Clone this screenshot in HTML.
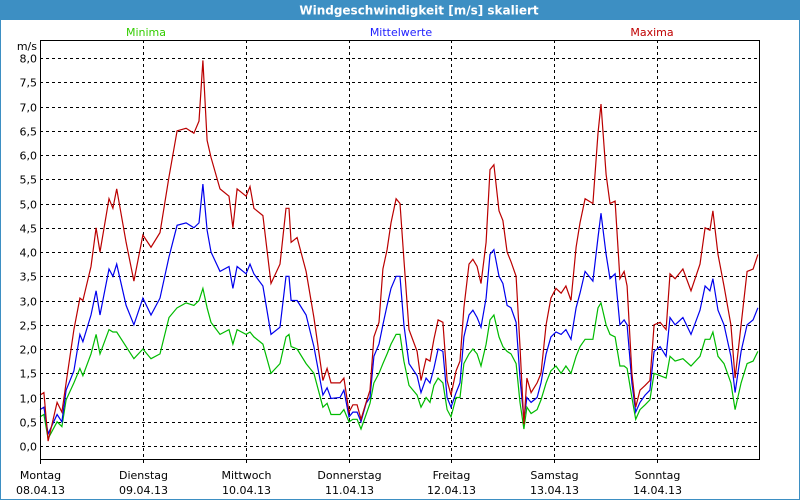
<!DOCTYPE html>
<html><head><meta charset="utf-8"><style>
html,body{margin:0;padding:0;background:#fff;}
#wrap{position:relative;width:800px;height:500px;overflow:hidden;}
svg text{font-family:"DejaVu Sans","Liberation Sans",sans-serif;}
</style></head><body>
<div id="wrap">
<svg id="chart" width="800" height="500" viewBox="0 0 800 500">
<rect x="0.5" y="0.5" width="799" height="499" fill="#fff" stroke="#3d8fc3"/>
<rect x="0" y="0" width="800" height="20" fill="#3d8fc3"/>
<text x="419" y="14.5" fill="#fff" font-size="12" font-weight="bold" text-anchor="middle">Windgeschwindigkeit [m/s] skaliert</text>
<text x="146" y="36" fill="#33cc00" font-size="11" text-anchor="middle">Minima</text>
<text x="401" y="36" fill="#2020ff" font-size="11" text-anchor="middle">Mittelwerte</text>
<text x="652" y="36" fill="#c00000" font-size="11" text-anchor="middle">Maxima</text>
<text x="37" y="50" fill="#000" font-size="11" text-anchor="end">m/s</text>
<g id="grid"></g>
<g id="series"></g>
<rect x="40.5" y="40.5" width="719" height="419" fill="none" stroke="#000" stroke-width="1"/>
<g id="labels"></g>
</svg>
</div>
<script>
const hours=[0,0.9,1.9,4.0,5.1,6.1,7.9,9.3,10.0,11.9,13.1,14.0,16.1,17.0,17.9,20.1,21.9,24.0,25.9,28.0,30.1,32.0,34.1,35.9,37.1,38.0,39.0,39.9,42.0,44.1,45.0,46.0,48.1,49.0,49.9,52.0,53.9,56.0,57.4,58.1,58.6,60.0,62.1,63.9,66.0,67.0,67.9,70.0,70.9,72.1,73.0,74.0,74.9,76.1,77.0,77.9,79.1,80.0,81.0,81.9,83.1,84.0,84.9,86.1,88.0,88.9,90.1,91.0,91.9,92.9,94.0,95.0,95.9,97.1,98.0,98.9,100.1,101.0,102.0,102.9,104.1,105.0,105.9,107.1,108.0,109.0,109.9,111.1,112.0,112.9,113.6,114.6,116.0,116.9,118.1,119.2,120.4,121.6,122.7,123.9,125.1,126.0,127.2,129.0,130.2,130.9,132.1,133.0,134.2,135.3,136.3,137.0,138.1,139.0,140.0,141.2,142.3,143.3,144.7,146.1,147.0,148.2,150.0,151.9,154.0,155.2,156.3,157.0,158.2,159.6,161.2,162.2,163.6,165.0,166.4,167.5];
const maxima=[1.05,1.1,0.1,0.9,0.7,1.3,2.4,3.05,3.0,3.7,4.5,4.0,5.1,4.9,5.3,4.2,3.4,4.35,4.1,4.4,5.55,6.5,6.55,6.45,6.7,7.95,6.3,5.95,5.3,5.15,4.5,5.3,5.15,5.35,4.9,4.75,3.35,3.75,4.9,4.9,4.2,4.3,3.6,2.65,1.35,1.6,1.3,1.3,1.4,0.7,0.85,0.85,0.55,0.9,1.15,2.25,2.55,3.65,4.05,4.6,5.1,5.0,3.85,2.4,1.95,1.35,1.8,1.75,2.2,2.6,2.55,1.35,1.05,1.55,1.75,2.85,3.75,3.85,3.7,3.35,4.2,5.7,5.8,4.85,4.65,4.0,3.8,3.5,2.05,0.45,1.4,1.1,1.3,1.5,2.5,3.05,3.25,3.15,3.3,3.0,4.1,4.6,5.1,5.0,6.45,7.05,5.6,5.0,5.05,3.45,3.6,3.3,1.5,0.8,1.15,1.25,1.35,2.5,2.55,2.4,3.55,3.45,3.65,3.2,3.75,4.5,4.45,4.85,3.95,3.3,2.5,1.4,2.5,3.6,3.65,3.95];
const mittel=[0.75,0.8,0.25,0.65,0.5,1.15,1.55,2.3,2.15,2.7,3.2,2.7,3.65,3.5,3.75,2.9,2.5,3.05,2.7,3.05,3.9,4.55,4.6,4.5,4.6,5.4,4.45,4.0,3.6,3.7,3.25,3.7,3.55,3.75,3.55,3.3,2.3,2.45,3.5,3.5,3.0,3.0,2.7,2.05,1.05,1.2,0.98,1.0,1.15,0.6,0.7,0.7,0.5,0.88,1.0,1.85,2.1,2.5,2.9,3.25,3.5,3.5,2.5,1.7,1.45,1.1,1.4,1.3,1.6,2.0,1.95,1.0,0.8,1.1,1.3,2.25,2.7,2.8,2.65,2.45,3.05,3.95,4.05,3.5,3.35,2.9,2.85,2.55,1.4,0.55,1.0,0.9,1.0,1.3,1.9,2.25,2.35,2.3,2.4,2.2,2.85,3.15,3.6,3.4,4.3,4.8,3.95,3.45,3.55,2.5,2.6,2.5,1.3,0.7,0.9,1.05,1.15,1.95,2.05,1.85,2.65,2.5,2.65,2.3,2.8,3.3,3.2,3.45,2.8,2.5,1.85,1.1,1.95,2.5,2.6,2.85];
const minima=[0.6,0.65,0.15,0.5,0.4,0.95,1.3,1.6,1.45,1.9,2.3,1.9,2.4,2.35,2.35,2.05,1.8,2.0,1.8,1.9,2.65,2.85,2.95,2.9,3.0,3.25,2.85,2.55,2.3,2.4,2.1,2.4,2.3,2.35,2.25,2.1,1.5,1.7,2.25,2.3,2.05,2.0,1.7,1.5,0.8,0.88,0.65,0.65,0.75,0.5,0.55,0.55,0.35,0.65,0.88,1.3,1.5,1.7,1.9,2.1,2.3,2.3,1.75,1.25,1.05,0.8,1.0,0.9,1.25,1.4,1.3,0.75,0.6,1.0,1.0,1.7,1.9,2.0,1.9,1.65,2.1,2.6,2.7,2.25,2.05,1.95,1.9,1.7,0.9,0.35,0.8,0.67,0.75,0.95,1.3,1.55,1.65,1.5,1.65,1.5,1.85,2.05,2.2,2.2,2.85,2.95,2.5,2.3,2.25,1.65,1.65,1.6,1.0,0.55,0.75,0.85,0.95,1.5,1.45,1.4,1.85,1.75,1.8,1.65,1.85,2.2,2.2,2.35,1.85,1.7,1.3,0.75,1.3,1.7,1.75,1.95];
const yTicks=["0,0","0,5","1,0","1,5","2,0","2,5","3,0","3,5","4,0","4,5","5,0","5,5","6,0","6,5","7,0","7,5","8,0"];
const dayNames=["Montag","Dienstag","Mittwoch","Donnerstag","Freitag","Samstag","Sonntag"];
const dayDates=["08.04.13","09.04.13","10.04.13","11.04.13","12.04.13","13.04.13","14.04.13"];

const NS="http://www.w3.org/2000/svg";
const X0=40,X1=760,Y0=446,PXU=48.5;
function xScale(h){return X0+h*(X1-X0)/168;}
function yScale(v){return Y0-v*PXU;}
const grid=document.getElementById('grid'),labels=document.getElementById('labels'),series=document.getElementById('series');

yTicks.forEach(function(t,i){
  const v=parseFloat(t.replace(',','.'));
  const y=Math.round(yScale(v))+0.5;
  const ln=document.createElementNS(NS,'line');
  ln.setAttribute('x1',X0);ln.setAttribute('x2',X1);ln.setAttribute('y1',y);ln.setAttribute('y2',y);
  ln.setAttribute('stroke','#000');ln.setAttribute('stroke-dasharray','3,3');
  
  
  grid.appendChild(ln);
  const tx=document.createElementNS(NS,'text');
  tx.setAttribute('x',37);tx.setAttribute('y',y+4);tx.setAttribute('font-size','11');tx.setAttribute('text-anchor','end');
  tx.textContent=t;
  
  
  labels.appendChild(tx);
});
dayNames.forEach(function(d,i){
  const x=Math.round(xScale(i*24))+0.5;
  const ln=document.createElementNS(NS,'line');
  ln.setAttribute('x1',x);ln.setAttribute('x2',x);ln.setAttribute('y1',40);ln.setAttribute('y2',464);
  ln.setAttribute('stroke','#000');
  if(i>0)ln.setAttribute('stroke-dasharray','3,3');
  
  
  grid.appendChild(ln);
  const t1=document.createElementNS(NS,'text');
  t1.setAttribute('x',x);t1.setAttribute('y',479);t1.setAttribute('font-size','11');t1.setAttribute('text-anchor','middle');
  t1.textContent=d;
  
  
  labels.appendChild(t1);
  const t2=document.createElementNS(NS,'text');
  t2.setAttribute('x',x);t2.setAttribute('y',494);t2.setAttribute('font-size','11');t2.setAttribute('text-anchor','middle');
  t2.textContent=dayDates[i];
  
  
  labels.appendChild(t2);
});
function drawSeries(vals,color,name){
  const p=document.createElementNS(NS,'polyline');
  p.setAttribute('points',vals.map(function(v,i){return xScale(hours[i]).toFixed(1)+','+yScale(v).toFixed(1);}).join(' '));
  p.setAttribute('fill','none');p.setAttribute('stroke',color);p.setAttribute('stroke-width','1.2');
  
  
  series.appendChild(p);
}
drawSeries(minima,'#00bb00','series-minima');
drawSeries(mittel,'#0000ee','series-mittelwerte');
drawSeries(maxima,'#bb0000','series-maxima');
</script>
</body></html>
